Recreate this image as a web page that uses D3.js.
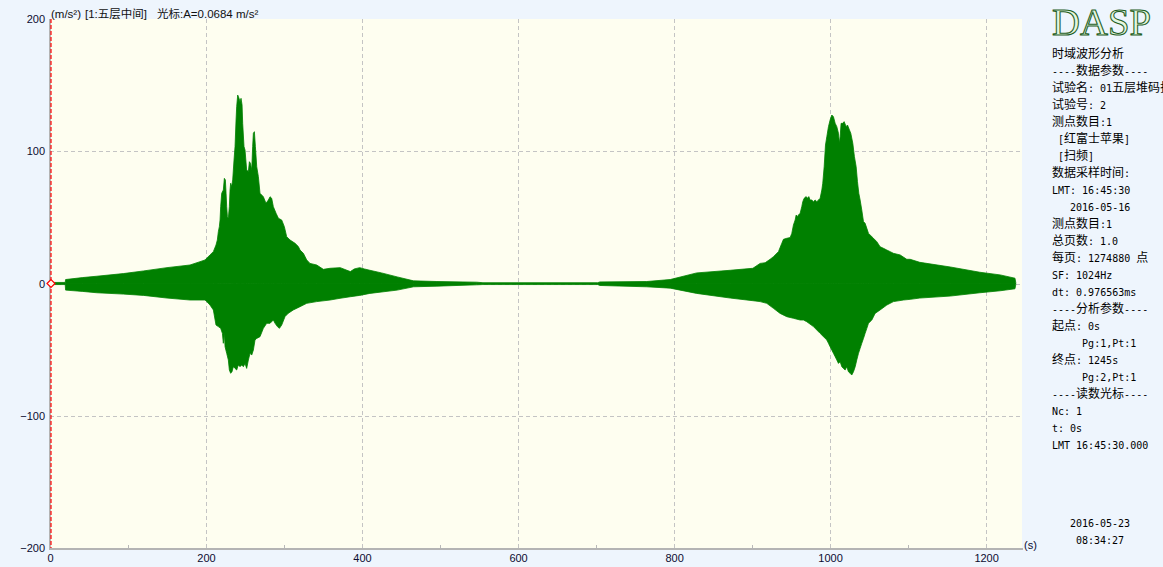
<!DOCTYPE html>
<html><head><meta charset="utf-8">
<script src="https://cdn.jsdelivr.net/npm/d3@7"></script>
<style>
html,body{margin:0;padding:0;background:#EEF5FD;}
svg{display:block;}
</style></head>
<body>
<svg id="chart" width="1163" height="567"></svg>
<script>
// ---- data: envelope of the acceleration waveform (m/s²) vs time (s) ----
const upperT = [0, 19.5, 20, 42, 60, 94, 120, 150, 179.5, 192.3, 198.7, 205.1, 209.4, 212.8, 214.5, 215.8, 217.1, 218, 218.8, 220.1, 222.2, 223.5, 224.8, 225.7, 226.5, 227.4, 228.6, 229.9, 230.8, 231.6, 232.9, 234.2, 235.9, 237.2, 238.5, 239.3, 240.6, 242.3, 243.6, 244.9, 246.2, 247, 248.7, 250, 252.1, 254.3, 255.6, 256.9, 258.6, 259.8, 260.7, 262, 263.3, 265, 267.1, 269.2, 271.4, 273.5, 276.9, 279.9, 282.1, 284.2, 286.3, 289.8, 292.8, 297, 300.4, 303.4, 307.7, 314.1, 318.4, 320.5, 324.8, 329.1, 333.3, 341.9, 350.4, 359, 372, 385, 390, 397, 403, 410, 425, 445, 466, 496, 547, 555, 702, 705, 765, 795, 829, 872, 901, 910.3, 916.7, 923.1, 927.4, 933.8, 938.1, 940.2, 944.5, 948.8, 950.9, 953, 955.2, 956.5, 958.2, 959.4, 961.6, 963.7, 965, 966.7, 969.3, 971, 972.7, 974.4, 976.5, 978.7, 980.8, 983, 985.1, 987.2, 989.4, 990.6, 992.4, 994.1, 995.8, 997.9, 1000, 1002.2, 1004.3, 1006.5, 1008.6, 1010.7, 1012, 1012.9, 1014.1, 1016.3, 1018, 1020.6, 1022.3, 1024.8, 1026.5, 1029.1, 1031.2, 1033.4, 1035.1, 1036.8, 1038.5, 1040.6, 1042.8, 1044.9, 1047.1, 1049.2, 1051.3, 1055.6, 1059.9, 1064.1, 1068.4, 1072.7, 1077, 1081.2, 1089.8, 1098.3, 1102.6, 1115, 1154, 1192, 1218, 1237, 1238];
const upperV = [0.8, 0.8, 3, 4.5, 5.5, 7.5, 9.5, 12, 14, 16.5, 17.8, 21.6, 24.1, 29.1, 32.9, 39.2, 43, 48, 58.1, 68.2, 70.7, 79.5, 78.3, 68.2, 58.1, 50.5, 49.3, 58.1, 70.7, 75.8, 73.2, 78.3, 93.4, 103.5, 123.6, 133.7, 142.5, 140, 137.5, 140, 135, 121.1, 103.5, 100.9, 85.8, 84.6, 92.1, 90.9, 85.8, 103.5, 113.6, 114.8, 103.5, 88.3, 80.8, 68.2, 66.9, 65.6, 60.6, 63.1, 65.6, 64.4, 58.1, 53.1, 49.3, 48, 43, 35.4, 32.9, 30.4, 27.9, 25.3, 22.8, 17.8, 15.2, 14, 10.7, 11.5, 12, 9, 11, 12, 11, 10, 8, 5, 2, 1.5, 1, 0.6, 0.6, 1.2, 1.5, 3, 8, 10, 11.5, 15.2, 15.7, 18.3, 20.3, 24.1, 30.4, 33.4, 34.2, 34.7, 37.9, 44.2, 48, 51.8, 50.5, 51.8, 53.1, 58.1, 61.9, 64.4, 65.7, 64.4, 65.7, 63.1, 63.1, 61.9, 63.1, 61.9, 63.1, 64.4, 70.7, 75.8, 88.3, 104.7, 111, 118.6, 123.6, 127.4, 126.1, 121.1, 118.6, 113.6, 106, 111, 121.1, 121.1, 122.4, 118.6, 119.8, 116.1, 113.6, 106, 95.9, 88.3, 77, 68.2, 63.1, 55.6, 46.8, 45.5, 41.7, 37.9, 36.7, 34.2, 31.6, 27.8, 26.6, 25.3, 24.1, 22.8, 21.6, 18.3, 18.3, 16, 12.5, 8.5, 6.5, 4, 0.8];
const lowerT = [0, 19.5, 20, 42, 60, 94, 120, 150, 179.5, 198.7, 200.9, 205.1, 209.4, 212.8, 215.8, 218.8, 221, 222.2, 223.5, 224.4, 226.5, 228.6, 229.9, 231.6, 233.3, 235, 237.2, 239.3, 241.4, 243.6, 245.7, 247.9, 250, 252.1, 254.3, 256.4, 258.6, 260.7, 262.8, 265, 269.2, 273.5, 277.8, 282.1, 286.3, 288.5, 291.5, 294.1, 297, 301.3, 305.5, 311.9, 320.5, 329.1, 341.9, 359, 371.8, 385, 397, 410, 445, 466, 496, 547, 555, 702, 705, 765, 795, 829, 872, 901, 910.3, 918.8, 927.4, 935.9, 944.5, 953, 961.6, 965.9, 970.1, 978.7, 983, 987.2, 991.5, 995.8, 997.9, 1000, 1002.2, 1004.3, 1006.5, 1008.6, 1010.7, 1012.9, 1015, 1017.1, 1019.3, 1021.4, 1023.5, 1025.7, 1027.8, 1030, 1032.2, 1034.2, 1036.4, 1038.5, 1040.6, 1042.8, 1044.9, 1047.1, 1049.2, 1053.5, 1057.7, 1064.1, 1072.7, 1081.2, 1094, 1102.6, 1115, 1154, 1192, 1218, 1237, 1238];
const lowerV = [-0.8, -0.8, -5, -6, -7, -8, -9, -11, -12.5, -12.5, -13.7, -16.3, -20, -31.4, -32.6, -33.9, -37.7, -45.2, -37.7, -47.8, -52.8, -57.8, -65.4, -67.9, -66.7, -62.9, -64.2, -65.4, -61.6, -62.9, -61.6, -62.9, -60.4, -64.2, -57.8, -52.8, -54.1, -50.3, -42.7, -41.5, -40.2, -33.9, -30.1, -30.1, -27.6, -30.1, -32.6, -33.9, -31.4, -25, -22.5, -20, -17.5, -15, -13.7, -12.5, -11.2, -10, -9, -7.5, -5, -2.5, -2, -1, -0.8, -0.8, -1.5, -2.5, -3.5, -7.5, -11, -13, -13.7, -15, -18.8, -22.6, -25.1, -26.3, -27.6, -27.6, -28.9, -32.6, -35.2, -37.7, -40.2, -42.7, -45.2, -47.8, -50.3, -52.8, -55.3, -57.8, -60.4, -59.1, -62.9, -64.2, -65.4, -62.9, -66.7, -67.9, -69.2, -66.7, -62.9, -57.8, -52.8, -49, -45.2, -41.5, -37.7, -33.9, -30.1, -27.6, -22.6, -20, -16.3, -13.7, -12.5, -12, -11, -9.5, -7, -5.5, -4, -0.8];
const xTicks = [0, 200, 400, 600, 800, 1000, 1200];
const xMinorTicks = [100, 300, 500, 700, 900, 1100];
const yTicks = [200, 100, 0, -100, -200];
const yGrid = [100, 0, -100];
const headerParts = ["(m/s²)", "[1:五层中间]", "光标:A=0.0684 m/s²"];
const panelLines = [
  "时域波形分析",
  "----数据参数----",
  "试验名: 01五层堆码扫频",
  "试验号: 2",
  "测点数目:1",
  " [红富士苹果]",
  " [扫频]",
  "数据采样时间:",
  "LMT: 16:45:30",
  "   2016-05-16",
  "测点数目:1",
  "总页数: 1.0",
  "每页: 1274880 点",
  "SF: 1024Hz",
  "dt: 0.976563ms",
  "----分析参数----",
  "起点: 0s",
  "     Pg:1,Pt:1",
  "终点: 1245s",
  "     Pg:2,Pt:1",
  "----读数光标----",
  "Nc: 1",
  "t: 0s",
  "LMT 16:45:30.000"
];
const footerLines = ["2016-05-23", "08:34:27"];
const cursorT = 0, cursorV = 0;

// ---- layout ----
const L = 50, R = 1022, T = 19, B = 548;
const svg = d3.select("#chart");
const x = d3.scaleLinear().domain([0, 1246]).range([L, R]);
const y = d3.scaleLinear().domain([-200, 200]).range([B, T]);
const axisFont = "Liberation Sans, Arial, sans-serif";

svg.append("rect").attr("width", 1163).attr("height", 567).attr("fill", "#EEF5FD");
svg.append("rect").attr("x", L).attr("y", T).attr("width", R - L).attr("height", B - T).attr("fill", "#FEFEF0");

// grid
svg.append("g").selectAll("line").data(xTicks.filter(d => d > 0)).join("line")
  .attr("x1", d => Math.round(x(d)) + 0.5).attr("x2", d => Math.round(x(d)) + 0.5).attr("y1", T).attr("y2", B)
  .attr("stroke", "#c4c4c4").attr("stroke-dasharray", "4,3");
svg.append("g").selectAll("line").data(yGrid).join("line")
  .attr("x1", L).attr("x2", R).attr("y1", d => Math.round(y(d)) + 0.5).attr("y2", d => Math.round(y(d)) + 0.5)
  .attr("stroke", "#c4c4c4").attr("stroke-dasharray", "4,3");
svg.append("g").selectAll("line").data(xMinorTicks).join("line")
  .attr("x1", d => Math.round(x(d)) + 0.5).attr("x2", d => Math.round(x(d)) + 0.5).attr("y1", B - 3).attr("y2", B)
  .attr("stroke", "#b8b8b8");

// waveform envelope (two halves, each filled to zero)
const up = upperT.map((t, i) => ({t, v: upperV[i]}));
const lo = lowerT.map((t, i) => ({t, v: lowerV[i]}));
const area = d3.area().x(d => x(d.t)).y0(y(0)).y1(d => y(d.v)).curve(d3.curveLinear);
[up, lo].forEach(dat => {
  svg.append("path").datum(dat).attr("d", area)
    .attr("fill", "#008000").attr("stroke", "#008000").attr("stroke-width", 0.8).attr("stroke-linejoin", "miter");
});

// borders
svg.append("line").attr("x1", L).attr("x2", L).attr("y1", T).attr("y2", B + 2).attr("stroke", "#b4b4b4").attr("stroke-width", 2);
svg.append("line").attr("x1", L - 1).attr("x2", R + 1).attr("y1", B + 1).attr("y2", B + 1).attr("stroke", "#b4b4b4").attr("stroke-width", 2);

// axes
const yAxis = d3.axisLeft(y).tickValues(yTicks).tickSize(0).tickPadding(5).tickFormat(d3.format("d"));
const gy = svg.append("g").attr("transform", `translate(${L},0)`).call(yAxis);
gy.select(".domain").remove();
gy.selectAll("text").attr("font-family", axisFont).attr("font-size", 11).attr("fill", "#0c0c30");

const xAxis = d3.axisBottom(x).tickValues(xTicks).tickSize(0).tickPadding(6).tickFormat(d3.format("d"));
const gx = svg.append("g").attr("transform", `translate(0,${B})`).call(xAxis);
gx.select(".domain").remove();
gx.selectAll("text").attr("font-family", axisFont).attr("font-size", 11).attr("fill", "#0c0c30");

svg.append("text").attr("x", 1024).attr("y", 549).text("(s)")
  .attr("font-family", axisFont).attr("font-size", 11).attr("fill", "#0c0c30");

// cursor
const cx = x(cursorT) + 1, cy = y(cursorV);
svg.append("line").attr("x1", cx).attr("x2", cx).attr("y1", T).attr("y2", B)
  .attr("stroke", "#ff0000").attr("stroke-width", 1.2).attr("stroke-dasharray", "4,2");
svg.append("path").attr("d", `M${cx - 4},${cy} L${cx},${cy - 4} L${cx + 4},${cy} L${cx},${cy + 4} Z`)
  .attr("fill", "#FEFEF0").attr("stroke", "#ff0000").attr("stroke-width", 1.2);

// header
const hx = [51, 85, 157];
headerParts.forEach((s, i) => {
  svg.append("text").attr("x", hx[i]).attr("y", 18).text(s)
    .attr("font-family", "Liberation Sans, Noto Sans CJK SC, sans-serif").attr("font-size", 11.5).attr("fill", "#111");
});

// logo
svg.append("text").attr("x", 1052).attr("y", 35).text("DASP")
  .attr("font-family", "Liberation Serif, serif").attr("font-size", 37)
  .attr("textLength", 99).attr("lengthAdjust", "spacingAndGlyphs")
  .attr("fill", "#E4F6E0").attr("stroke", "#1E5E1E").attr("stroke-width", 1);

// panel text with mixed scripts (CJK 12px, Latin monospace 10px)
const cjkRe = /[\u2E80-\u9FFF\uFF00-\uFFEF]/;
function addMixed(parent, str, xPos, yCenter, anchor) {
  const t = parent.append("text").attr("x", xPos).attr("y", yCenter + 4.5)
    .attr("fill", "#000").attr("text-anchor", anchor || "start").style("white-space", "pre");
  const runs = str.match(/[\u2E80-\u9FFF\uFF00-\uFFEF]+|[^\u2E80-\u9FFF\uFF00-\uFFEF]+/g) || [];
  runs.forEach(r => {
    const cjk = cjkRe.test(r);
    t.append("tspan").text(r)
      .attr("font-family", cjk ? "Noto Sans CJK SC, sans-serif" : "DejaVu Sans Mono, Liberation Mono, monospace")
      .attr("font-size", cjk ? 12 : 10);
  });
}
const panel = svg.append("g");
panelLines.forEach((s, i) => addMixed(panel, s, 1052, 53 + 17 * i));
footerLines.forEach((s, i) => addMixed(panel, s, 1100, 522 + 17 * i, "middle"));
</script>
</body></html>
